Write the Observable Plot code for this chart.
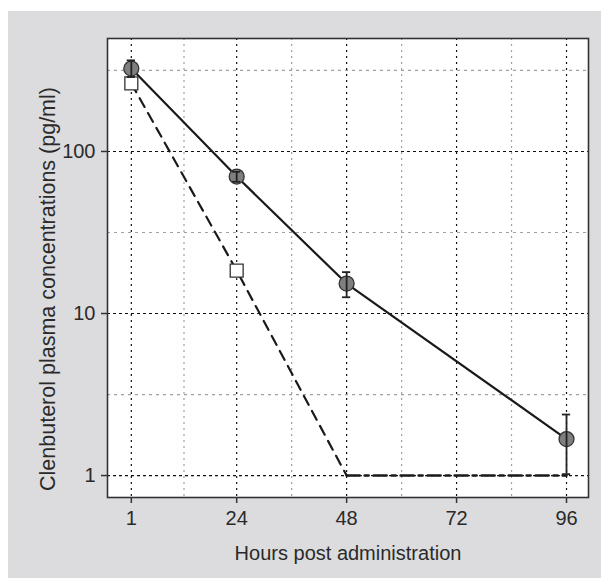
<!DOCTYPE html>
<html>
<head>
<meta charset="utf-8">
<script src="https://cdn.jsdelivr.net/npm/d3@7"></script>
<script src="https://cdn.jsdelivr.net/npm/@observablehq/plot@0.6"></script>
<style>
  html, body { margin: 0; padding: 0; background: #ffffff; }
  #wrap { position: relative; width: 601px; height: 579px; overflow: hidden; }
  #panel { position: absolute; left: 8px; top: 11px; width: 593px; height: 567px; background: #dcdcde; }
  #chart { position: absolute; left: 0; top: 0; }
</style>
</head>
<body>
<div id="wrap"><div id="panel"></div><div id="chart"></div></div>
<script>
// Data
const hours = [1, 24, 48, 96];
const clenMean = [325, 70, 15.3, 1.68];
const clenLow = [288, 65, 12.6, 1.02];
const clenHigh = [365, 75, 18.0, 2.38];
const dashHours = [1, 24, 48];
const dashValues = [263, 18.4, 1];
const floorHours = [48, 96];
const floorValues = [1, 1];
const squareHours = [1, 24];
const squareValues = [263, 18.4];
const xTicks = [1, 24, 48, 72, 96];
const xMinor = [12.5, 36, 60, 84];
const yTicks = [1, 10, 100];
const yMinor = [3.162, 31.62, 316.2];
const xLabel = "Hours post administration";
const yLabel = "Clenbuterol plasma concentrations (pg/ml)";

const solid = hours.map((h, i) => ({h, v: clenMean[i], lo: clenLow[i], hi: clenHigh[i]}));
const dashed = dashHours.map((h, i) => ({h, v: dashValues[i]}));
const floor = floorHours.map((h, i) => ({h, v: floorValues[i]}));
const squares = squareHours.map((h, i) => ({h, v: squareValues[i]}));

const FONT = "'Liberation Sans Narrow', 'Arial Narrow', 'Liberation Sans', Arial, sans-serif";
const ink = "#2a2a2a";
const FS = 20;

const chart = Plot.plot({
  width: 601,
  height: 579,
  marginLeft: 107,
  marginRight: 13,
  marginTop: 38,
  marginBottom: 82,
  style: {background: "transparent", fontFamily: FONT, fontSize: FS + "px", color: ink},
  x: {domain: [-4.2, 100.8]},
  y: {type: "log", domain: [0.732, 498]},
  marks: [
    Plot.frame({fill: "white", stroke: null}),
    Plot.ruleX(xMinor, {stroke: "#a0a0a0", strokeWidth: 1.2, strokeDasharray: "2,4"}),
    Plot.ruleY(yMinor, {stroke: "#a0a0a0", strokeWidth: 1.2, strokeDasharray: "3,4"}),
    Plot.ruleX(xTicks, {stroke: "#111", strokeWidth: 1.2, strokeDasharray: "2,4"}),
    Plot.ruleY(yTicks, {stroke: "#111", strokeWidth: 1.2, strokeDasharray: "3,3"}),
    Plot.frame({stroke: "#333", strokeWidth: 1.6}),
    Plot.axisX({ticks: xTicks, tickFormat: d => String(d), tickSize: 6, tickPadding: 7, label: null, stroke: "#333", strokeWidth: 1.5, fill: ink, fontSize: FS}),
    Plot.axisY({ticks: yTicks, tickFormat: d => String(d), tickSize: 6, tickPadding: 6, label: null, stroke: "#333", strokeWidth: 1.5, fill: ink, fontSize: FS}),
    Plot.line(dashed, {x: "h", y: "v", stroke: "#1a1a1a", strokeWidth: 2.2, strokeDasharray: "10,7"}),
    Plot.line(floor, {x: "h", y: "v", stroke: "#1a1a1a", strokeWidth: 2.6, strokeDasharray: "13,5,4,5"}),
    Plot.line(solid, {x: "h", y: "v", stroke: "#1a1a1a", strokeWidth: 2.2}),
    Plot.dot(squares, {x: "h", y: "v", symbol: "square", r: 7.3, fill: "white", stroke: "#333", strokeWidth: 1.3}),
    Plot.dot(solid, {x: "h", y: "v", r: 7.5, fill: "#7f7f7f", stroke: "#333", strokeWidth: 1.3}),
    Plot.ruleX(solid, {x: "h", y1: "lo", y2: "hi", stroke: "#222", strokeWidth: 1.8}),
    Plot.ruleY(solid, {y: "hi", x1: d => d.h - 0.9, x2: d => d.h + 0.9, stroke: "#222", strokeWidth: 1.8}),
    Plot.ruleY(solid, {y: "lo", x1: d => d.h - 0.9, x2: d => d.h + 0.9, stroke: "#222", strokeWidth: 1.8}),
    Plot.text([xLabel], {frameAnchor: "bottom", dy: 56, lineAnchor: "middle", textAnchor: "middle", fill: ink, fontSize: FS}),
    Plot.text([yLabel], {frameAnchor: "left", dx: -59, dy: 21, rotate: -90, lineAnchor: "middle", textAnchor: "middle", fill: ink, fontSize: 21.5})
  ]
});
document.getElementById("chart").appendChild(chart);
</script>
</body>
</html>
